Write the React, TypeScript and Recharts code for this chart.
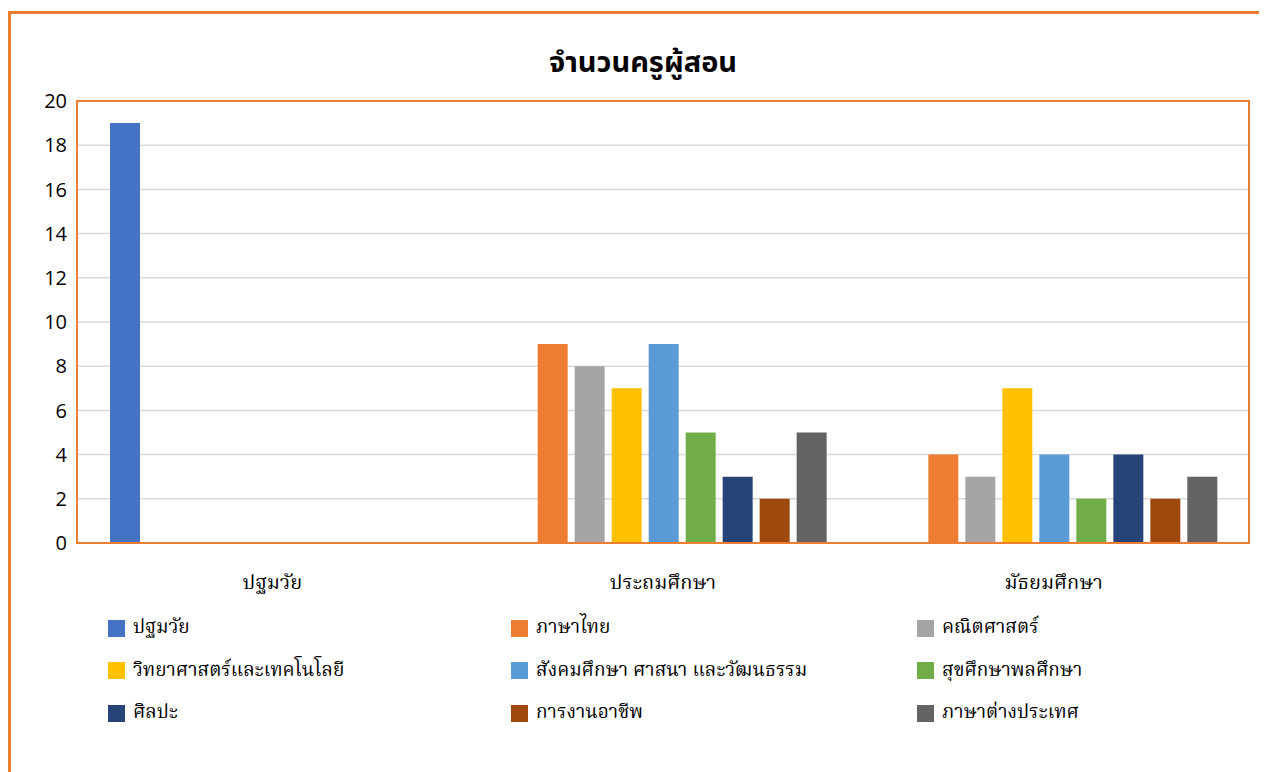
import React from 'react';
import { BarChart, Bar, XAxis, YAxis, CartesianGrid } from 'recharts';

const categories = ['ปฐมวัย', 'ประถมศึกษา', 'มัธยมศึกษา'];
const seriesNames = [
  'ปฐมวัย',
  'ภาษาไทย',
  'คณิตศาสตร์',
  'วิทยาศาสตร์และเทคโนโลยี',
  'สังคมศึกษา ศาสนา และวัฒนธรรม',
  'สุขศึกษาพลศึกษา',
  'ศิลปะ',
  'การงานอาชีพ',
  'ภาษาต่างประเทศ',
];
const earlyChildhood = [19, 0, 0];
const thaiLang = [0, 9, 4];
const math = [0, 8, 3];
const science = [0, 7, 7];
const social = [0, 9, 4];
const health = [0, 5, 2];
const arts = [0, 3, 4];
const career = [0, 2, 2];
const foreignLang = [0, 5, 3];
const seriesValues = [earlyChildhood, thaiLang, math, science, social, health, arts, career, foreignLang];
const colors = ['#4472C4', '#ED7D31', '#A5A5A5', '#FFC000', '#5B9BD5', '#70AD47', '#264478', '#9E480E', '#636363'];
const yTicks = [0, 2, 4, 6, 8, 10, 12, 14, 16, 18, 20];

const data = categories.map((c, i) => {
  const row: Record<string, number | string> = { name: c };
  seriesNames.forEach((s, j) => {
    row['s' + j] = seriesValues[j][i];
  });
  return row;
});

const W = 1259;
const H = 764;
const X_H = 30;
const M = { top: 93, right: 18, bottom: 229 - X_H, left: 0 };
const Y_W = 69;
const thaiSerif = '"Noto Serif Thai", "Liberation Serif", "DejaVu Serif", serif';

export default function App() {
  return (
    <div style={{ position: 'relative', width: W, height: H, overflow: 'hidden', background: '#fff' }}>
      <div
        style={{
          position: 'absolute',
          left: 0,
          top: 3,
          width: 1300,
          height: 820,
          border: '3px solid #ED7D31',
          boxSizing: 'border-box',
        }}
      />
      <div
        style={{
          position: 'absolute',
          left: 0,
          width: 1270,
          top: 37,
          textAlign: 'center',
          fontFamily: '"Noto Sans Thai", "Noto Sans", sans-serif',
          fontWeight: 'bold',
          fontSize: 29,
          color: '#000',
          lineHeight: '36px',
        }}
      >
        จำนวนครูผู้สอน
      </div>
      <div style={{ position: 'absolute', left: 0, top: 0 }}>
        <BarChart width={W} height={H} data={data} margin={M} barCategoryGap={33} barGap={7}>
          <CartesianGrid vertical={false} stroke="#D9D9D9" strokeWidth={1.5} />
          <XAxis
            dataKey="name"
            height={X_H}
            axisLine={false}
            tickLine={false}
            tickMargin={26}
            tick={{ fill: '#000', fontSize: 20, fontFamily: thaiSerif }}
          />
          <YAxis
            width={Y_W}
            domain={[0, 20]}
            ticks={yTicks}
            axisLine={false}
            tickLine={false}
            tickMargin={4}
            tick={{ fill: '#000', fontSize: 20, fontFamily: '"Open Sans", "Noto Sans", sans-serif' }}
          />
          {seriesNames.map((s, j) => (
            <Bar key={s} dataKey={'s' + j} name={s} fill={colors[j]} isAnimationActive={false} />
          ))}
        </BarChart>
      </div>
      <div
        style={{
          position: 'absolute',
          left: M.left + Y_W - 1,
          top: M.top - 1,
          width: W - M.left - Y_W - M.right + 2,
          height: H - M.top - M.bottom - X_H + 2,
          border: '2px solid #ED7D31',
          boxSizing: 'border-box',
          pointerEvents: 'none',
        }}
      />
      {seriesNames.map((s, j) => {
        const col = j % 3;
        const row = Math.floor(j / 3);
        const colX = [100, 503, 909];
        return (
          <div
            key={s}
            style={{
              position: 'absolute',
              left: colX[col],
              top: 603 + row * 42.5,
              height: 34,
              display: 'flex',
              alignItems: 'center',
              fontFamily: thaiSerif,
              fontSize: 19,
              color: '#000',
              whiteSpace: 'nowrap',
            }}
          >
            <span style={{ display: 'inline-block', width: 17, height: 17, background: colors[j], marginRight: 8 }} />
            {s}
          </div>
        );
      })}
    </div>
  );
}
